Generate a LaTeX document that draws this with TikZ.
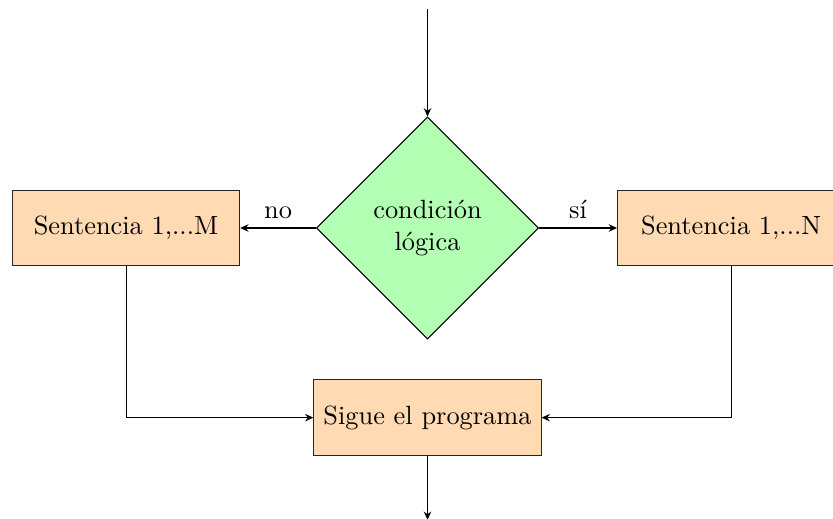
\documentclass[tikz,border=0pt]{standalone}
\usepackage{tikz}
\usetikzlibrary{arrows.meta,positioning,shapes.geometric}
\definecolor{decfill}{RGB}{179,255,179}
\definecolor{boxfill}{RGB}{255,218,179}
\tikzset{decision/.style={diamond,draw=black,fill=decfill,aspect=1,minimum width=2.96cm,minimum height=2.96cm,align=center,inner sep=1pt},stmt/.style={rectangle,draw=black!85,fill=boxfill,minimum width=3.03cm,minimum height=1.01cm,align=center},flow/.style={-{Stealth[length=1.1mm,width=1mm]},draw=black}}

\begin{document}
\begin{tikzpicture}
\useasboundingbox (-5.7,3.04) rectangle (5.407,-3.867);
\node[decision] (cond) at (0,0) {condici\'on\\l\'ogica};
\node[stmt,left=1.01cm of cond] (sentM) {Sentencia 1,...M};
\node[stmt,right=1.04cm of cond] (sentN) {Sentencia 1,...N};
\node[stmt,below=0.53cm of cond] (sigue) {Sigue el programa};
\coordinate[above=1.43cm of cond.north] (entrada);
\coordinate[below=0.85cm of sigue.south] (salida);
\draw[flow] (entrada)--(cond.north);
\draw[flow] (cond.west)--node[above]{no}(sentM.east);
\draw[flow] (cond.east)--node[above]{s\'i}(sentN.west);
\draw[flow] (sentM.south)|-(sigue.west);
\draw[flow] (sentN.south)|-(sigue.east);
\draw[flow] (sigue.south)--(salida);
\end{tikzpicture}
\end{document}
